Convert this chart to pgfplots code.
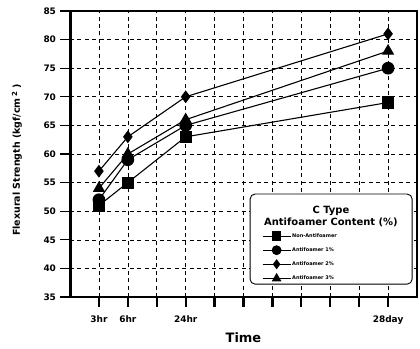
\documentclass[border=0pt]{standalone}
\usepackage{fontspec}
\setmainfont{DejaVu Sans}
\usepackage{pgfplots}
\pgfplotsset{compat=1.18}
\begin{document}
\begin{tikzpicture}
\begin{axis}[
  at={(0,0)}, anchor=south west,
  scale only axis, width=347bp, height=286bp,
  xmin=0, xmax=12, ymin=35, ymax=85,
  xtick={1,2,3,4,5,6,7,8,9,10,11},
  xticklabels={3hr,6hr,,24hr,,,,,,,28day},
  ytick={35,40,...,85},
  /pgf/number format/assume math mode=true,
  tick label style={font=\bfseries\fontsize{9}{10}\selectfont},
  xticklabel style={yshift=-6bp},
  yticklabel style={xshift=-1bp},
  tick align=outside,
  major tick length=9.5bp,
  xtick pos=bottom, ytick pos=left,
  x tick style={black, line width=2.2pt},
  y tick style={black, line width=1.4pt},
  axis line style={line width=1.8pt},
  grid=major,
  grid style={black, line width=0.6pt, dash pattern=on 4pt off 3.5pt},
  xlabel={Time},
  every axis x label/.style={at={(axis description cs:0.5,-0.143)}, anchor=center},
  xlabel style={font=\bfseries\fontsize{13}{14}\selectfont},
  ylabel={Flexural Strength (kgf/cm\,\raisebox{0.5ex}{\fontsize{7}{7}\selectfont 2} )},
  every axis y label/.style={at={(axis description cs:-0.153,0.479)}, rotate=90, anchor=center},
  ylabel style={font=\bfseries\fontsize{9.5}{11}\selectfont},
  legend style={at={(rel axis cs:0.553,0.228)}, anchor=north west,
    draw=none, fill=none, inner sep=0pt,
    font=\bfseries\fontsize{5}{5}\selectfont,
    nodes={inner sep=1bp, text height=3.5bp, text depth=0.5bp},
    row sep=5.6bp},
  legend cell align=left,
  legend image code/.code={
    \draw[#1, mark repeat=2, mark phase=2, mark options={scale=0.75}]
      plot coordinates {(0bp,0bp) (14bp,0bp) (28bp,0bp)};
  },
  every axis plot/.append style={black, line width=1.1pt},
]
% legend frame, filled so that the grid stays hidden behind it
\draw[line width=0.9pt, rounded corners=5bp, fill=white]
  (rel axis cs:0.519,0.045) rectangle (rel axis cs:0.986,0.36);
\node[font=\bfseries\fontsize{10}{12}\selectfont, align=center]
  at (rel axis cs:0.752,0.28) {C Type\\Antifoamer Content (\%)};
% Non-antifoamer
\addplot[mark=square*, mark size=5.5bp] coordinates {(1,51) (2,55) (4,63) (11,69)};
\addlegendentry{Non-Antifoamer}
% 1 % antifoamer
\addplot[mark=*, mark size=5.8bp] coordinates {(1,52) (2,59) (4,65) (11,75)};
\addlegendentry{Antifoamer 1\%}
% 2 % antifoamer
\addplot[mark=diamond*, mark size=5.5bp] coordinates {(1,57) (2,63) (4,70) (11,81)};
\addlegendentry{Antifoamer 2\%}
% 3 % antifoamer
\addplot[mark=triangle*, mark size=6bp] coordinates {(1,54) (2,60) (4,66) (11,78)};
\addlegendentry{Antifoamer 3\%}
% heavier left spine
\draw[line width=3.5pt] (rel axis cs:0,0) -- (rel axis cs:0,1);
\end{axis}
\pgfresetboundingbox
\path[use as bounding box] (-70bp,-52bp) rectangle (350bp,297bp);
\end{tikzpicture}
\end{document}
